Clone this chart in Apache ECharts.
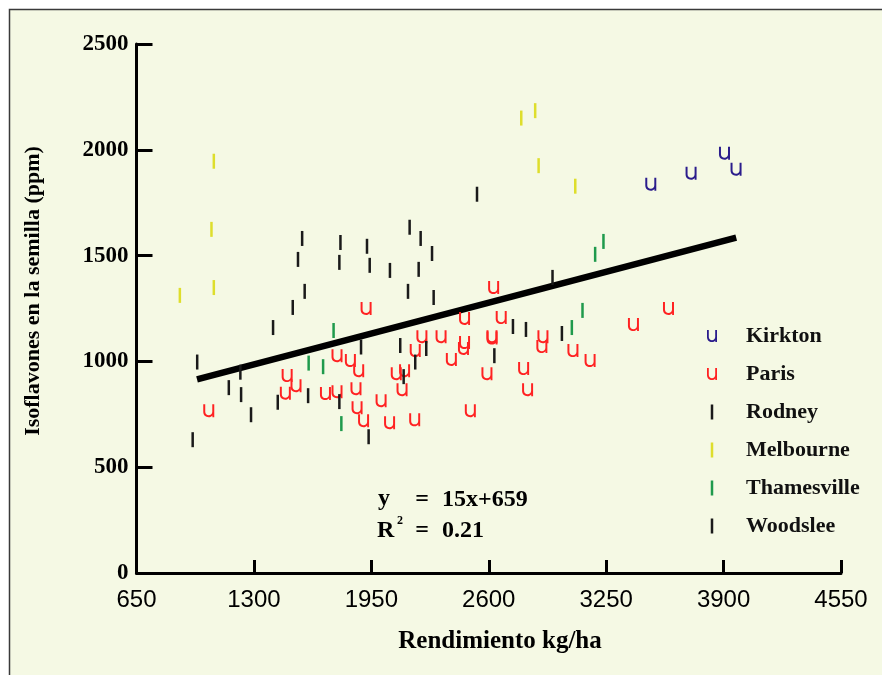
<!DOCTYPE html>
<html>
<head>
<meta charset="utf-8">
<script src="https://cdn.jsdelivr.net/npm/echarts@6/dist/echarts.min.js"></script>
<style>html,body{margin:0;padding:0;background:#fff}#c{width:882px;height:675px}</style>
</head>
<body>
<div id="c"></div>
<script>
// ---- data (kg/ha, ppm) ----
const xTicks = [650, 1300, 1950, 2600, 3250, 3900, 4550];
const yTicks = [0, 500, 1000, 1500, 2000, 2500];
const seriesNames = ['Kirkton', 'Paris', 'Rodney', 'Melbourne', 'Thamesville', 'Woodslee'];

const kirkton = [[3497,1837],[3720,1889],[3905,1984],[3969,1908]];
const paris = [
  [1050,767],[1484,933],[1533,885],[1474,850],[1760,1027],[1834,1004],[1880,956],[1921,1250],
  [1696,848],[1760,857],[1865,871],[1871,781],[1907,720],[2627,1349],[2466,1203],[2669,1207],
  [2900,1117],[2894,1070],[3066,1051],[3161,1004],[2618,1117],[2618,1110],[2230,1117],[2336,1117],
  [2466,1089],[2460,1061],[2193,1051],[2393,1009],[2088,942],[2134,956],[2120,866],[2590,942],
  [2793,966],[2815,866],[2004,814],[2051,710],[2190,724],[2498,767],[3595,1250],[3401,1174]
];
const rodney = [
  [1567,1581],[1544,1482],[1779,1562],[1773,1468],[1926,1544],[1941,1454],[1581,1331],[1515,1255],
  [2535,1790],[2162,1634],[2223,1581],[2286,1510],[2053,1430],[2212,1435],[2153,1331],[2295,1302],
  [2953,1397],[1406,1160],[986,997]
];
const melbourne = [[1078,1946],[1065,1624],[1078,1349],[890,1312],[2780,2150],[2857,2185],[2876,1925],[3079,1828]];
const thamesville = [[3189,1506],[3235,1567],[3119,1241],[3060,1160],[1741,1146],[1603,992],[1683,975],[1784,706]];
const woodslee = [
  [1225,949],[1161,876],[1229,843],[1284,748],[961,630],[1432,807],[1600,838],[1893,1068],
  [1773,810],[1935,644],[2734,1165],[2806,1151],[3005,1132],[2110,1075],[2254,1061],[2193,997],
  [2631,1027],[2129,928]
];
const trendLine = [[985,915],[3970,1585]];
const equationLine1 = '15x+659';
const equationLine2 = '0.21';

// ---- styling ----
const U_SHAPE = 'M0,0 L1.8,0 L1.8,7 C1.8,9 3.2,10.2 5,10.2 C6.8,10.2 8.2,9 8.2,7 L8.2,0 L10,0 L10,12 L8.3,12 L8.3,10.4 C7.5,11.5 6.3,12 5,12 C2,12 0,10 0,7 Z';
const U_PATH = 'path://' + U_SHAPE;
// legend version: same glyph, padded bounding box so it renders ~12px tall in a 15px slot
const U_LEGEND = 'path://' + U_SHAPE + ' M5,-1.5 L5.001,-1.5 L5,-1.5 Z M5,13.5 L5.001,13.5 L5,13.5 Z';
const BAR_PATH = 'path://M0,0 L1,0 L1,6 L0,6 Z';
const SERIF = '"Liberation Serif", "DejaVu Serif", serif';

function scatter(name, data, symbol, size, color) {
  return { name, type: 'scatter', data, symbol, symbolSize: size,
    itemStyle: { color, opacity: 1 }, z: 3, silent: true };
}

const legendData = seriesNames.map(n => (n === 'Kirkton' || n === 'Paris') ? { name: n, icon: U_LEGEND } : { name: n });

const chart = echarts.init(document.getElementById('c'));
chart.setOption({
  animation: false,
  backgroundColor: '#ffffff',
  grid: { left: 136.5, right: 41, top: 44, bottom: 102 },
  xAxis: {
    type: 'value', min: xTicks[0], max: xTicks[xTicks.length - 1], interval: 650,
    axisLine: { show: true, lineStyle: { color: '#000', width: 3 } },
    axisTick: { show: true, inside: true, length: 13, lineStyle: { color: '#000', width: 3 } },
    splitLine: { show: false },
    axisLabel: { color: '#000', fontFamily: '"Liberation Sans", Arial, sans-serif', fontSize: 24, margin: 15,
      formatter: v => String(v) }
  },
  yAxis: {
    type: 'value', min: yTicks[0], max: yTicks[yTicks.length - 1], interval: 500,
    axisLine: { show: true, lineStyle: { color: '#000', width: 3 } },
    axisTick: { show: true, inside: true, length: 16, lineStyle: { color: '#000', width: 3 } },
    splitLine: { show: false },
    axisLabel: { color: '#000', fontFamily: SERIF, fontWeight: 'bold', fontSize: 23, margin: 8,
      formatter: v => String(v) }
  },
  legend: {
    data: legendData, orient: 'vertical', left: 702, top: 320,
    itemWidth: 58, itemHeight: 15, itemGap: 16, selectedMode: false,
    textStyle: { fontFamily: SERIF, fontWeight: 'bold', fontSize: 22, lineHeight: 22, color: '#111' }
  },
  graphic: [
    { type: 'rect', z: -10, silent: true, shape: { x: 9.5, y: 9.5, width: 900, height: 700 },
      style: { fill: '#f5f9e4', stroke: '#3a3a3a', lineWidth: 1.5 } },
    { type: 'text', z: 100, x: 500, y: 642, style: { text: 'Rendimiento kg/ha', font: 'bold 25px ' + SERIF, fill: '#000', align: 'center', verticalAlign: 'middle' } },
    { type: 'text', z: 100, x: 33, y: 291, rotation: Math.PI / 2, style: { text: 'Isoflavones en la semilla (ppm)', font: 'bold 22px ' + SERIF, fill: '#000', align: 'center', verticalAlign: 'middle' } },
    { type: 'text', z: 100, x: 378, y: 499, style: { text: 'y', font: 'bold 24px ' + SERIF, fill: '#000', align: 'left', verticalAlign: 'middle' } },
    { type: 'text', z: 100, x: 422, y: 500, style: { text: '=', font: 'bold 24px ' + SERIF, fill: '#000', align: 'center', verticalAlign: 'middle' } },
    { type: 'text', z: 100, x: 442, y: 500, style: { text: equationLine1, font: 'bold 24px ' + SERIF, fill: '#000', align: 'left', verticalAlign: 'middle' } },
    { type: 'text', z: 100, x: 377, y: 531, style: { text: 'R', font: 'bold 24px ' + SERIF, fill: '#000', align: 'left', verticalAlign: 'middle' } },
    { type: 'text', z: 100, x: 397, y: 521, style: { text: '2', font: 'bold 12px ' + SERIF, fill: '#000', align: 'left', verticalAlign: 'middle' } },
    { type: 'text', z: 100, x: 422, y: 531, style: { text: '=', font: 'bold 24px ' + SERIF, fill: '#000', align: 'center', verticalAlign: 'middle' } },
    { type: 'text', z: 100, x: 442, y: 531, style: { text: equationLine2, font: 'bold 24px ' + SERIF, fill: '#000', align: 'left', verticalAlign: 'middle' } }
  ],
  series: [
    { name: 'trend', type: 'line', data: trendLine, showSymbol: false, silent: true, z: 2,
      lineStyle: { color: '#000', width: 6.5 } },
    scatter('Kirkton', kirkton, U_PATH, [11, 13], '#2b1d8c'),
    scatter('Paris', paris, U_PATH, [11, 13], '#ff2222'),
    scatter('Rodney', rodney, BAR_PATH, [2.5, 15], '#1a1a1a'),
    scatter('Melbourne', melbourne, BAR_PATH, [2.5, 15], '#dede2c'),
    scatter('Thamesville', thamesville, BAR_PATH, [2.5, 15], '#1f9a4c'),
    scatter('Woodslee', woodslee, BAR_PATH, [2.5, 15], '#1a1a1a')
  ]
});
</script>
</body>
</html>
